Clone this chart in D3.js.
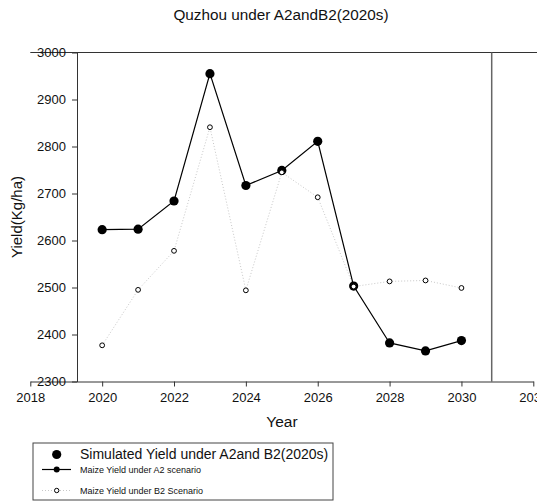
<!DOCTYPE html>
<html>
<head>
<meta charset="utf-8">
<script src="https://cdn.jsdelivr.net/npm/d3@7"></script>
<style>
  html, body { margin: 0; padding: 0; background: #fff; }
  svg { display: block; font-family: "Liberation Sans", Arial, sans-serif; }
</style>
</head>
<body>
<svg id="chart" width="537" height="502"></svg>
<script>
// Simulated maize yield, Quzhou, 2020s
const years = [2020, 2021, 2022, 2023, 2024, 2025, 2026, 2027, 2028, 2029, 2030];
const yieldA2 = [2623, 2624, 2684, 2955, 2717, 2749, 2811, 2503, 2382, 2365, 2387];
const yieldB2 = [2377, 2495, 2578, 2841, 2494, 2745, 2692, 2502, 2513, 2515, 2499];
const xTicks = [2018, 2020, 2022, 2024, 2026, 2028, 2030, 2032];
const yTicks = [2300, 2400, 2500, 2600, 2700, 2800, 2900, 3000];
const titleText = "Quzhou under A2andB2(2020s)";
const legendLabels = ["Simulated Yield under A2and B2(2020s)", "Maize Yield under A2 scenario", "Maize Yield under B2 Scenario"];

const svg = d3.select("#chart");

const x = d3.scaleLinear().domain([2018, 2032]).range([30.3, 533.3]);
const y = d3.scaleLinear().domain([2300, 3000]).range([381.5, 52.5]);

const plotLeft = 77, plotRight = 491.7;
const axisColor = "#333";

// title
svg.append("text")
  .attr("x", 281).attr("y", 20)
  .attr("text-anchor", "middle")
  .attr("font-size", 15.3)
  .attr("fill", "#111")
  .text(titleText);

// top frame line
svg.append("line")
  .attr("x1", x(2018)).attr("x2", 537)
  .attr("y1", y(3000)).attr("y2", y(3000))
  .attr("stroke", axisColor).attr("stroke-width", 1);

// right frame line
svg.append("line")
  .attr("x1", plotRight).attr("x2", plotRight)
  .attr("y1", y(3000)).attr("y2", y(2300))
  .attr("stroke", "#666").attr("stroke-width", 1.5);

// x axis
const xAxis = svg.append("g")
  .attr("transform", `translate(0,${y(2300)})`)
  .call(d3.axisBottom(x).tickValues(xTicks).tickFormat(d3.format("d")).tickSize(5).tickSizeOuter(0).tickPadding(6));
xAxis.select(".domain").attr("stroke", axisColor);
xAxis.selectAll(".tick line").attr("stroke", axisColor);
xAxis.selectAll("text").attr("font-size", 13).attr("fill", "#111")
  .attr("font-family", "Liberation Sans, Arial, sans-serif");

// y axis
const yAxis = svg.append("g")
  .attr("transform", `translate(${plotLeft},0)`)
  .call(d3.axisLeft(y).tickValues(yTicks).tickFormat(d3.format("d")).tickSize(5).tickSizeOuter(0).tickPadding(6));
yAxis.select(".domain").attr("stroke", axisColor);
yAxis.selectAll(".tick line").attr("stroke", axisColor);
yAxis.selectAll("text").attr("font-size", 13).attr("fill", "#111")
  .attr("font-family", "Liberation Sans, Arial, sans-serif");

// axis titles
svg.append("text")
  .attr("x", 282).attr("y", 427)
  .attr("text-anchor", "middle")
  .attr("font-size", 15.5).attr("fill", "#111")
  .text("Year");
svg.append("text")
  .attr("transform", `translate(22,${(y(3000) + y(2300)) / 2}) rotate(-90)`)
  .attr("text-anchor", "middle")
  .attr("font-size", 15).attr("fill", "#111")
  .text("Yield(Kg/ha)");

const a2 = years.map((yr, i) => ({ yr, v: yieldA2[i] }));
const b2 = years.map((yr, i) => ({ yr, v: yieldB2[i] }));
const line = d3.line().x(d => x(d.yr)).y(d => y(d.v));

// B2 series: dotted light line with open circles
svg.append("path").datum(b2)
  .attr("d", line)
  .attr("fill", "none")
  .attr("stroke", "#c8c8c8").attr("stroke-width", 1)
  .attr("stroke-dasharray", "1,2");

// A2 series: solid line with filled circles
svg.append("path").datum(a2)
  .attr("d", line)
  .attr("fill", "none")
  .attr("stroke", "#000").attr("stroke-width", 1.2);

svg.selectAll("circle.a2").data(a2).enter().append("circle")
  .attr("class", "a2")
  .attr("cx", d => x(d.yr)).attr("cy", d => y(d.v))
  .attr("r", 4.6).attr("fill", "#000");

svg.selectAll("circle.b2").data(b2).enter().append("circle")
  .attr("class", "b2")
  .attr("cx", d => x(d.yr)).attr("cy", d => y(d.v))
  .attr("r", 2.4).attr("fill", "#fff")
  .attr("stroke", "#000").attr("stroke-width", 1);

// legend
const lg = svg.append("g");
lg.append("rect")
  .attr("x", 33).attr("y", 443)
  .attr("width", 300).attr("height", 57)
  .attr("fill", "#fff").attr("stroke", "#444").attr("stroke-width", 1);
lg.append("circle").attr("cx", 56.7).attr("cy", 454.5).attr("r", 4.6).attr("fill", "#000");
lg.append("text").attr("x", 80).attr("y", 459)
  .attr("font-size", 14).attr("fill", "#111").text(legendLabels[0]);
lg.append("line").attr("x1", 42).attr("x2", 71).attr("y1", 469.5).attr("y2", 469.5)
  .attr("stroke", "#000").attr("stroke-width", 1.2);
lg.append("circle").attr("cx", 56.7).attr("cy", 469.5).attr("r", 3).attr("fill", "#000");
lg.append("text").attr("x", 80).attr("y", 472.5)
  .attr("font-size", 9).attr("fill", "#111").text(legendLabels[1]);
lg.append("line").attr("x1", 42).attr("x2", 71).attr("y1", 490.5).attr("y2", 490.5)
  .attr("stroke", "#c8c8c8").attr("stroke-width", 1).attr("stroke-dasharray", "1,2");
lg.append("circle").attr("cx", 56.7).attr("cy", 490.5).attr("r", 2.2)
  .attr("fill", "#fff").attr("stroke", "#000").attr("stroke-width", 1);
lg.append("text").attr("x", 80).attr("y", 493.5)
  .attr("font-size", 9).attr("fill", "#111").text(legendLabels[2]);
</script>
</body>
</html>
